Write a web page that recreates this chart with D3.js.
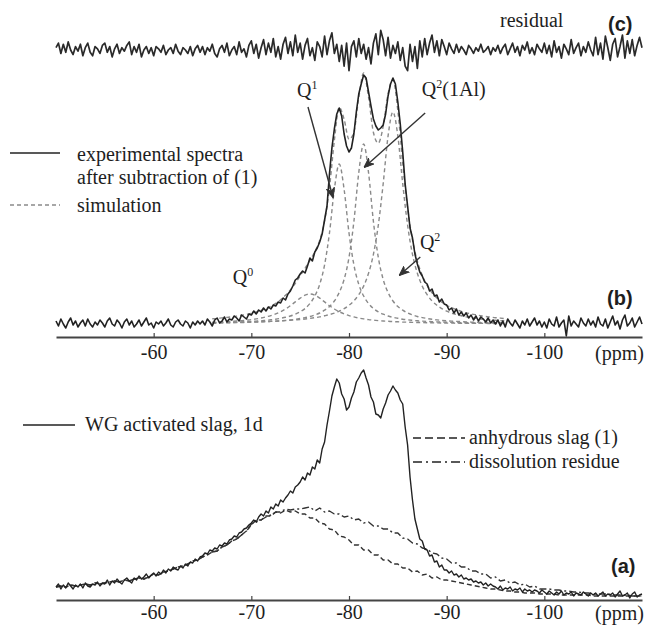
<!DOCTYPE html>
<html><head><meta charset="utf-8">
<script src="https://cdn.jsdelivr.net/npm/d3@7"></script>
<style>
html,body{margin:0;padding:0;background:#fff;}
svg{display:block;}
</style></head><body>
<svg id="c" width="648" height="629"></svg>
<script>
// ---------- DATA ----------
const ppmTicks = [-60, -70, -80, -90, -100];
const xDomain = [-50, -110];
// noisy spectra sampled every 0.25 ppm from -50 ppm
const noisyStart = -50, noisyStep = 0.25;
// reference spectra (panel a) sampled every 0.5 ppm from -50 ppm
const refStart = -50, refStep = 0.5;
// simulated components sampled every 0.5 ppm from -66 ppm
const simStart = -66, simStep = 0.5;

const residualC = [
 2,6,-3,5,-2,7,0,-4,3,-1,5,-5,2,6,-2,-5,3,1,-3,4,
 6,-2,3,-6,1,5,-3,2,-1,4,7,-4,3,-2,5,-6,0,3,-3,2,
 -5,3,1,-2,4,-4,0,2,-3,5,-1,-4,2,0,-3,3,-5,1,4,-2,
 3,-4,2,-1,5,-3,-6,1,4,-2,6,-5,0,3,-4,7,-2,1,-6,4,
 8,-3,5,-7,2,9,-4,6,-2,10,-6,3,-8,5,11,-3,7,-5,13,-2,
 6,-8,4,10,-5,2,-9,7,3,-6,12,-4,8,15,-3,5,-10,4,-14,6,
 -18,3,8,-6,10,-3,5,-8,2,-12,6,14,-4,17,9,-5,11,-7,4,-3,
 7,-9,2,-14,-18,5,-10,3,-16,8,-6,10,-4,6,13,-2,8,-5,9,3,
 -4,6,1,-3,5,-2,3,0,-4,4,1,-3,2,-1,5,-2,0,3,-4,2,
 -1,4,-3,2,5,-4,1,6,-2,3,-5,4,0,7,-3,2,-4,5,1,-2,
 6,-3,4,-6,8,-2,3,-7,5,1,-4,9,-3,2,6,-5,3,-2,7,0,
 -5,11,-4,6,-8,12,2,-9,5,10,-6,3,13,-7,8,-3,9,-5,4,11,2
];

const expB = [
 3,-2,5,0,-4,2,6,-1,3,-3,1,4,-2,5,0,-3,2,-1,4,1,
 -3,3,6,0,-2,4,1,-4,2,5,-1,3,-3,0,4,-2,2,6,-1,1,
 -4,2,0,3,-2,1,5,-1,-3,2,4,0,-2,3,1,-4,2,-1,3,0,
 3,-1,5,2,-2,4,6,1,3,7,2,5,4,8,6,3,9,7,5,10,
 9,13,10,14,12,16,13,17,15,19,18,22,21,26,24,30,33,38,44,46,
 50,53,51,58,66,63,72,76,82,90,104,118,150,176,195,210,216,208,190,178,
 172,176,190,212,230,240,249,246,232,218,205,198,194,196,199,210,228,240,246,240,
 222,200,172,140,118,96,86,70,60,52,48,42,40,33,35,28,29,22,25,20,
 19,14,16,11,15,9,12,8,11,6,9,4,8,3,7,5,2,6,1,4,
 0,4,-2,3,-3,5,1,-2,4,0,-4,3,-1,5,-2,2,6,-1,3,-3,
 2,-4,5,0,-2,7,-3,1,4,-12,8,-2,3,0,-3,6,1,-2,5,-1,
 3,-3,7,0,-2,5,-4,2,8,-1,3,-5,4,9,-2,1,6,-3,2,7,0
];

const simQ0 = [1.8,1.9,2.2,2.4,2.7,3.0,3.4,3.9,4.4,5.1,6.0,7.1,8.4,10.1,12.3,15,18.3,22.1,25.9,28.8,30,
 28.8,25.9,22.1,18.3,15,12.3,10.1,8.4,7.1,6.0,5.1,4.4,3.9,3.4,3.0,2.7,2.4,2.2,1.9,1.8,
 1.6,1.5,1.4,1.3,1.2,1.1,1.0,0.9,0.9,0.8,0.8,0.7,0.7,0.7,0.6,0.6,0.5,0.5,0.5,0.5];
const simQ1 = [1.2,1.3,1.5,1.6,1.7,1.9,2.1,2.3,2.6,2.9,3.2,3.7,4.2,4.8,5.7,6.7,8.0,9.8,12.2,15.5,20.5,28,39.7,59.2,91,134.6,
 160,
 134.6,91,59.2,39.7,28,20.5,15.5,12.2,9.8,8.0,6.7,5.7,4.8,4.2,3.7,3.2,2.9,2.6,2.3,2.1,1.9,1.7,1.6,1.5,1.3,1.2,1.2,1.1,1.0,0.9,0.9,0.8,0.8,0.7];
const simQ2Al = [1.0,1.0,1.1,1.2,1.3,1.4,1.5,1.6,1.8,1.9,2.1,2.4,2.6,2.9,3.2,3.6,4.1,4.7,5.5,6.4,7.5,9.1,11.0,13.8,17.5,23.0,31.5,44.6,66.6,102.4,151.4,
 180,
 151.4,102.4,66.6,44.6,31.5,23.0,17.5,13.8,11.0,9.1,7.5,6.4,5.5,4.7,4.1,3.6,3.2,2.9,2.6,2.4,2.1,1.9,1.8,1.6,1.5,1.4,1.3,1.2,1.1];
const simQ2 = [1.2,1.3,1.35,1.4,1.5,1.6,1.7,1.8,2.0,2.1,2.3,2.4,2.6,2.8,3.1,3.4,3.7,4.1,4.5,5.0,5.6,6.3,7.1,8.2,9.4,10.9,12.9,15.4,18.7,23.1,29.3,37.9,50.7,69.7,98.8,140.3,188,
 212,
 188,140.3,98.8,69.7,50.7,37.9,29.3,23.1,18.7,15.4,12.9,10.9,9.4,8.2,7.1,6.3,5.6,5.0,4.5,4.1,3.7,3.4,3.1];

const wgA = [
 10,13,8,12,9,14,11,8,12,10,13,9,14,11,10,13,12,15,11,14,
 13,17,12,16,14,18,15,13,17,19,16,14,19,17,21,18,20,23,19,22,
 24,21,25,23,27,24,28,26,30,28,27,31,29,33,31,35,34,38,36,40,
 41,44,43,47,46,49,48,52,51,54,53,57,58,61,60,64,65,68,69,72,
 74,77,75,80,83,81,86,84,90,88,93,91,97,95,99,102,106,104,110,112,
 115,120,117,124,122,130,128,137,134,148,155,172,186,201,210,218,214,203,198,187,
 190,199,205,215,219,224,227,219,212,200,195,183,182,179,188,194,202,206,211,207,
 204,197,193,170,152,120,97,78,68,58,56,48,47,41,42,35,36,30,32,27,
 27,24,26,22,23,20,22,18,19,17,18,15,16,14,15,12,14,11,13,11,
 10,8,11,7,9,8,10,6,8,7,9,5,8,6,7,5,7,6,4,7,
 5,3,6,4,2,5,3,6,2,4,3,5,1,4,3,2,5,3,1,4,
 2,4,1,3,5,1,3,2,4,0,3,6,1,2,4,-1,3,5,0,2,3
];

const anhydrousA = [
 10,11,10,12,11,12,13,12,14,13,14,15,16,15,17,16,18,19,18,20,
 23,22,25,26,28,30,31,33,36,37,40,42,45,46,50,52,56,58,62,66,
 72,77,77,81,81,85,84,87,85,86,83,83,79,79,74,73,68,67,61,60,
 57,52,52,47,47,42,42,37,37,33,33,29,29,25,26,22,23,19,20,17,
 17,16,15,14,13,12,11,10,9,8,8,7,6,6,5,5,4,4,4,3,
 3,3,3,2,2,2,2,2,2,2,1,1,1,1,1,1,1,1,1,1,1
];

const dissolutionA = [
 10,11,10,12,11,12,13,12,14,13,14,15,16,15,17,16,18,19,18,20,
 23,22,25,26,28,30,31,33,36,37,40,42,45,46,50,52,56,58,62,66,
 73,75,77,80,82,85,85,88,87,88,88,89,90,86,89,85,86,83,83,80,
 81,77,78,74,75,71,71,68,68,64,64,59,58,54,53,49,48,44,43,39,
 38,34,34,30,30,26,26,23,23,19,20,16,17,14,15,12,13,10,11,8,
 8,8,7,7,6,6,5,5,4,4,3,3,3,3,2,2,2,2,1,1,1
];

const legendB = ["experimental spectra", "after subtraction of (1)", "simulation"];
const legendA = ["WG activated slag, 1d", "anhydrous slag (1)", "dissolution residue"];
const panelLabels = ["(a)", "(b)", "(c)"];

// ---------- DRAWING ----------
const SERIF = '"Liberation Serif","Times New Roman",Times,serif';
const SANS = '"Liberation Sans",Arial,Helvetica,sans-serif';
const INK = "#1e1e1e";
const svg = d3.select("#c");

const x = d3.scaleLinear().domain(xDomain).range([56, 642]);
const yC = d3.scaleLinear().domain([-20, 20]).range([73, 27]);
const yB = d3.scaleLinear().domain([0, 250]).range([324, 74]);
const yA = d3.scaleLinear().domain([0, 226]).range([597, 371]);

function series(values, start, step) {
  return values.map((v, i) => ({p: start - step * i, v}));
}
function drawCurve(data, y, opts) {
  const line = d3.line().x(d => x(d.p)).y(d => y(d.v)).curve(opts.curve || d3.curveLinear);
  svg.append("path").datum(data)
    .attr("d", line)
    .attr("fill", "none")
    .attr("stroke", opts.color || INK)
    .attr("stroke-width", opts.width || 1.3)
    .attr("stroke-dasharray", opts.dash || null)
    .attr("stroke-linejoin", "round");
}

// marker
svg.append("defs").append("marker")
  .attr("id", "ah").attr("viewBox", "0 0 10 10")
  .attr("refX", 9).attr("refY", 5)
  .attr("markerWidth", 10).attr("markerHeight", 10)
  .attr("markerUnits", "userSpaceOnUse").attr("orient", "auto")
  .append("path").attr("d", "M0,1 L10,5 L0,9 L3,5 Z")
  .attr("fill", "#333").attr("stroke", "#333").attr("stroke-width", 1);

function axis(yPos, pad) {
  const g = svg.append("g").attr("transform", `translate(0,${yPos})`)
    .call(d3.axisBottom(x).tickValues(ppmTicks).tickFormat(d => String(d))
      .tickSizeInner(-4).tickSizeOuter(0).tickPadding(pad));
  g.select(".domain").attr("stroke", "#444").attr("stroke-width", 2.2);
  g.selectAll(".tick line").attr("stroke", "#444").attr("stroke-width", 1.2);
  g.selectAll(".tick text").attr("font-family", SERIF).attr("font-size", 20).attr("fill", INK);
  g.append("text").attr("x", 644).attr("y", pad + 14.5).attr("text-anchor", "end")
    .attr("font-family", SERIF).attr("font-size", 20).attr("fill", INK).text("(ppm)");
}

function text(tx, ty, str, size, family, weight, anchor) {
  return svg.append("text").attr("x", tx).attr("y", ty)
    .attr("font-family", family || SERIF).attr("font-size", size || 20)
    .attr("font-weight", weight || "normal").attr("fill", INK)
    .attr("text-anchor", anchor || "start").text(str);
}

function qLabel(tx, ty, sup, rest) {
  const t = svg.append("text").attr("x", tx).attr("y", ty)
    .attr("font-family", SERIF).attr("font-size", 20).attr("fill", INK);
  t.append("tspan").text("Q");
  t.append("tspan").attr("dy", -8).attr("font-size", 12).text(sup);
  if (rest) t.append("tspan").attr("dy", 8).attr("font-size", 20).text(rest);
}
function arrow(p1, v1, p2, v2, y) {
  svg.append("line").attr("x1", x(p1)).attr("y1", y(v1)).attr("x2", x(p2)).attr("y2", y(v2))
    .attr("stroke", "#333").attr("stroke-width", 1.4).attr("marker-end", "url(#ah)");
}

// ----- panel (c): residual -----
drawCurve(series(residualC, noisyStart, noisyStep), yC, {width: 1.7, color: "#2a2a2a"});
text(500, 27, "residual", 20);
text(608, 31, panelLabels[2], 20, SANS, "bold");

// ----- panel (b) -----
const simGray = "#8a8a8a";
[simQ0, simQ1, simQ2Al, simQ2].forEach(arr =>
  drawCurve(series(arr, simStart, simStep), yB, {color: simGray, width: 1.4, dash: "4,3", curve: d3.curveMonotoneX}));
const simTotal = simQ0.map((v, i) => v + simQ1[i] + simQ2Al[i] + simQ2[i]);
drawCurve(series(simTotal, simStart, simStep), yB, {color: simGray, width: 1.4, dash: "4,3", curve: d3.curveMonotoneX});
drawCurve(series(expB, noisyStart, noisyStep), yB, {width: 1.6, color: "#222"});
axis(337, 8);
text(607, 305, panelLabels[1], 20, SANS, "bold");

// legend b
svg.append("line").attr("x1", 10).attr("x2", 60).attr("y1", 153).attr("y2", 153).attr("stroke", "#222").attr("stroke-width", 1.5);
svg.append("line").attr("x1", 10).attr("x2", 60).attr("y1", 205).attr("y2", 205).attr("stroke", simGray).attr("stroke-width", 1.4).attr("stroke-dasharray", "4,3");
text(77, 161, legendB[0], 20);
text(77, 184, legendB[1], 20);
text(77, 212, legendB[2], 20);

// peak labels and arrows
qLabel(x(-68.1), yB(40), "0", "");
qLabel(x(-74.67), yB(227), "1", "");
arrow(-75.8, 217, -78.35, 127, yB);
qLabel(x(-87.46), yB(228), "2", "(1Al)");
arrow(-87.8, 211, -81.6, 157, yB);
qLabel(x(-87.26), yB(75), "2", "");
arrow(-87.3, 67, -85.2, 49, yB);

// ----- panel (a) -----
drawCurve(series(anhydrousA, refStart, refStep), yA, {width: 1.4, color: "#333", dash: "5,3"});
drawCurve(series(dissolutionA, refStart, refStep), yA, {width: 1.4, color: "#333", dash: "7,3,2,3"});
drawCurve(series(wgA, noisyStart, noisyStep), yA, {width: 1.4, color: "#222"});
axis(600, 5);
text(611, 573, panelLabels[0], 20, SANS, "bold");

// legend a
svg.append("line").attr("x1", 23).attr("x2", 75).attr("y1", 425).attr("y2", 425).attr("stroke", "#222").attr("stroke-width", 1.5);
text(85, 431, legendA[0], 20);
svg.append("line").attr("x1", 413).attr("x2", 465).attr("y1", 438).attr("y2", 438).attr("stroke", "#222").attr("stroke-width", 1.5).attr("stroke-dasharray", "8,4");
text(469, 444, legendA[1], 20);
svg.append("line").attr("x1", 413).attr("x2", 465).attr("y1", 462).attr("y2", 462).attr("stroke", "#222").attr("stroke-width", 1.5).attr("stroke-dasharray", "9,4,2,4");
text(469, 468, legendA[2], 20);
</script>
</body></html>
